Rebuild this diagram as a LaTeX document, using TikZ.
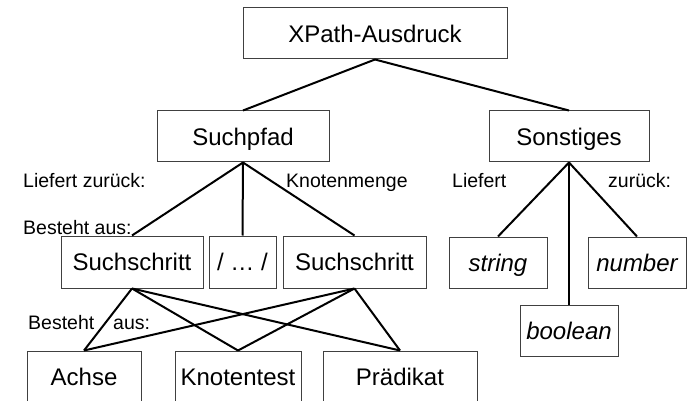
\documentclass[tikz,border=0pt]{standalone}
\usepackage{fontspec}
\setmainfont{Liberation Sans}
\begin{document}
\begin{tikzpicture}[x=1pt,y=-1pt,
  box/.style={draw=black!75,line width=1pt,minimum height=51pt,inner sep=0pt,
    text height=17.2pt,text depth=0pt,font=\fontsize{24}{28}\selectfont},
  conn/.style={line width=2pt,black},
  lbl/.style={anchor=base west,inner sep=0pt,font=\fontsize{19.5}{23}\selectfont}]
\path[use as bounding box] (0,0) rectangle (691,401);
\clip (0,0) rectangle (691,401);
\fill[white] (0,0) rectangle (691,401);
% boxes
\node[box,minimum width=264pt] (xp) at (375,33.5) {XPath-Ausdruck};
\node[box,minimum width=172pt] (sp) at (243,136.5) {Suchpfad};
\node[box,minimum width=160pt] (so) at (569,136.5) {Sonstiges};
\node[box,minimum width=142pt,minimum height=52pt] (s1) at (132,262) {Suchschritt};
\node[box,minimum width=67pt,minimum height=52pt] (dots) at (242.5,262) {/ … /};
\node[box,minimum width=143pt,minimum height=52pt] (s2) at (354.5,262) {Suchschritt};
\node[box,minimum width=98pt] (str) at (498,262.5) {\itshape string};
\node[box,minimum width=98pt] (num) at (637,262.5) {\itshape number};
\node[box,minimum width=98pt] (bool) at (569,330.5) {\itshape boolean};
\node[box,minimum width=114pt] (ach) at (84,376.5) {Achse};
\node[box,minimum width=126pt] (kt) at (238,376.5) {Knotentest};
\node[box,minimum width=154pt] (pr) at (400,376.5) {Prädikat};
% labels
\node[lbl] (l1) at (23,187) {Liefert zurück:};
\node[lbl] (l2) at (286,187) {Knotenmenge};
\node[lbl] (l3) at (23,234) {Besteht aus:};
\node[lbl] (l4) at (28,329) {Besteht};
\node[lbl] (l5) at (113,329) {aus:};
\node[lbl] (l6) at (452,187) {Liefert};
\node[lbl] (l7) at (608,187) {zurück:};
% connectors
\draw[conn] (xp.south) -- (sp.north);
\draw[conn] (xp.south) -- (so.north);
\draw[conn] (sp.south) -- (s1.north);
\draw[conn] (sp.south) -- (dots.north);
\draw[conn] (sp.south) -- (s2.north);
\draw[conn] (so.south) -- (str.north);
\draw[conn] (so.south) -- (bool.north);
\draw[conn] (so.south) -- (num.north);
\draw[conn] (s1.south) -- (ach.north);
\draw[conn] (s1.south) -- (kt.north);
\draw[conn] (s1.south) -- (pr.north);
\draw[conn] (s2.south) -- (ach.north);
\draw[conn] (s2.south) -- (kt.north);
\draw[conn] (s2.south) -- (pr.north);
\end{tikzpicture}
\end{document}
